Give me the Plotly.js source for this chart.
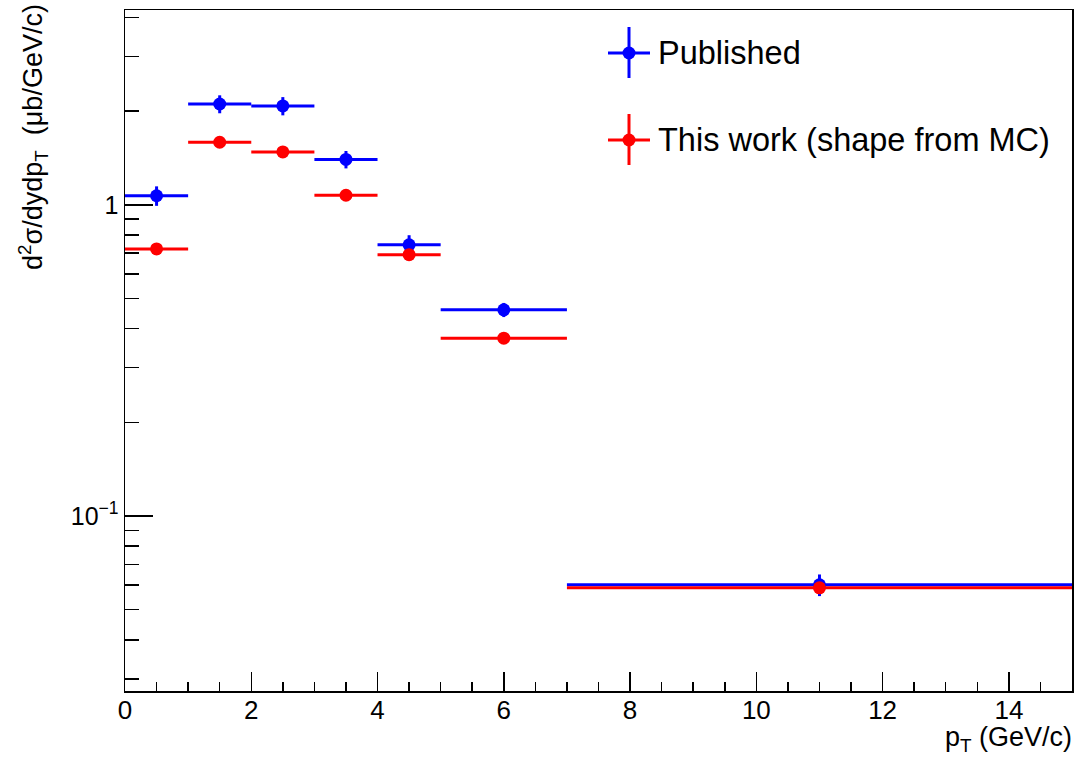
<!DOCTYPE html>
<html>
<head>
<meta charset="utf-8">
<script src="https://cdn.plot.ly/plotly-3.0.1.min.js"></script>
<style>html,body{margin:0;padding:0;background:#fff}#plot{width:1082px;height:761px}</style>
</head>
<body>
<div id="plot"></div>
<script>
// Bin centres and half widths (pT, GeV/c)
var binCenters = [0.5, 1.5, 2.5, 3.5, 4.5, 6, 11];
var binHalfWidths = [0.5, 0.5, 0.5, 0.5, 0.5, 1, 4];
// Published values and errors
var publishedValues = [1.07, 2.11, 2.08, 1.40, 0.744, 0.460, 0.0601];
var publishedErrors = [0.077, 0.14, 0.14, 0.09, 0.055, 0.024, 0.0048];
// This work (shape from MC)
var thisWorkValues = [0.722, 1.59, 1.48, 1.074, 0.692, 0.373, 0.0588];
var thisWorkErrors = [0.01, 0.02, 0.02, 0.015, 0.01, 0.005, 0.001];
// Series names and colours
var seriesNames = ['Published', 'This work (shape from MC)'];
var seriesColors = ['#0000ff', '#ff0000'];
// Axis ticks
var xTickVals = [0, 2, 4, 6, 8, 10, 12, 14];
var yTickVals = [0.1, 1];
var yTickText = ['10<sup>\u22121</sup>', '1'];
var yMinorTickVals = [0.03, 0.04, 0.05, 0.06, 0.07, 0.08, 0.09, 0.2, 0.3, 0.4, 0.5, 0.6, 0.7, 0.8, 0.9, 2, 3, 4];

var FONT = 'Liberation Sans, Arial, Helvetica, sans-serif';

function series(name, y, err, color) {
  return {
    type: 'scatter', mode: 'markers', name: name, showlegend: false,
    x: binCenters, y: y,
    marker: {color: color, size: 13, symbol: 'circle'},
    error_x: {type: 'data', array: binHalfWidths, color: color, thickness: 3, width: 0},
    error_y: {type: 'data', array: err, color: color, thickness: 3, width: 0},
    cliponaxis: true
  };
}

var data = [
  series(seriesNames[0], publishedValues, publishedErrors, seriesColors[0]),
  series(seriesNames[1], thisWorkValues, thisWorkErrors, seriesColors[1])
];

// Manual legend (ROOT style: marker with error cross)
var L = 125, R = 1072, T = 10, B = 691;
function px(v) { return (v - L) / (R - L); }
function py(v) { return (B - v) / (B - T); }
var legendRows = [53, 140];
var shapes = [], annotations = [];
seriesNames.forEach(function (name, i) {
  var cy = legendRows[i], c = seriesColors[i];
  shapes.push({type: 'line', xref: 'paper', yref: 'paper', x0: px(608), x1: px(650), y0: py(cy), y1: py(cy), line: {color: c, width: 3}});
  shapes.push({type: 'line', xref: 'paper', yref: 'paper', x0: px(629), x1: px(629), y0: py(cy + 25), y1: py(cy - 26), line: {color: c, width: 3}});
  shapes.push({type: 'circle', xref: 'paper', yref: 'paper', xsizemode: 'pixel', ysizemode: 'pixel',
    xanchor: px(629), yanchor: py(cy), x0: -6.5, x1: 6.5, y0: -6.5, y1: 6.5,
    fillcolor: c, line: {color: c, width: 0}});
  annotations.push({text: name, xref: 'paper', yref: 'paper', x: px(656), y: py(cy),
    xanchor: 'left', yanchor: 'middle', showarrow: false,
    font: {family: FONT, size: 32.5, color: '#000'}});
});

annotations.push({
  text: 'd<sup>2</sup>\u03c3/dydp<sub>T</sub>  (\u03bcb/GeV/c)',
  xref: 'paper', yref: 'paper', x: 0, y: 1, xanchor: 'center', yanchor: 'top',
  xshift: -92, yshift: 8, textangle: -90, showarrow: false,
  font: {family: FONT, size: 27, color: '#000'}
});
annotations.push({
  text: 'p<sub>T</sub> (GeV/c)',
  xref: 'paper', yref: 'paper', x: 1, y: 0, xanchor: 'right', yanchor: 'top',
  xshift: 2, yshift: -29, showarrow: false,
  font: {family: FONT, size: 27, color: '#000'}
});

var layout = {
  width: 1082, height: 761,
  margin: {l: L, r: 1082 - R, t: T, b: 761 - B},
  paper_bgcolor: '#ffffff', plot_bgcolor: '#ffffff',
  font: {family: FONT, color: '#000', size: 26},
  showlegend: false,
  xaxis: {
    range: [0, 15], showgrid: false, zeroline: false,
    showline: true, mirror: true, linecolor: '#000', linewidth: 1.5,
    tickmode: 'array', tickvals: xTickVals,
    ticks: 'inside', ticklen: 19, tickwidth: 1.5, tickcolor: '#000',
    ticklabelstandoff: -5,
    tickfont: {family: FONT, size: 26},
    minor: {dtick: 0.5, tick0: 0, ticks: 'inside', ticklen: 9, tickwidth: 1.5, tickcolor: '#000', showgrid: false}
  },
  yaxis: {
    type: 'log', range: [Math.log10(0.0274), Math.log10(4.23)],
    showgrid: false, zeroline: false,
    showline: true, mirror: true, linecolor: '#000', linewidth: 1.5,
    tickmode: 'array', tickvals: yTickVals, ticktext: yTickText,
    ticks: 'inside', ticklen: 28, tickwidth: 1.5, tickcolor: '#000',
    tickfont: {family: FONT, size: 25},
    minor: {tickmode: 'array', tickvals: yMinorTickVals, ticks: 'inside', ticklen: 14, tickwidth: 1.5, tickcolor: '#000', showgrid: false}
  },
  shapes: shapes,
  annotations: annotations
};

Plotly.newPlot('plot', data, layout, {displayModeBar: false, staticPlot: true});
</script>
</body>
</html>
